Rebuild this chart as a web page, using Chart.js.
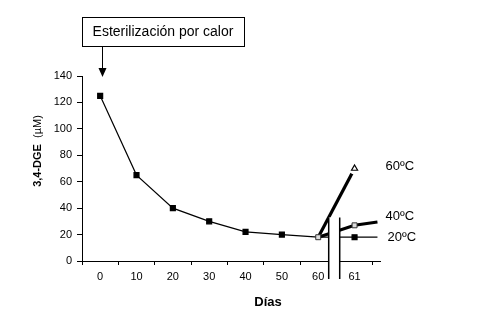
<!DOCTYPE html>
<html>
<head>
<meta charset="utf-8">
<script src="https://cdn.jsdelivr.net/npm/chart.js@4.4.1/dist/chart.umd.min.js"></script>
<style>
  body { margin: 0; background: #fff; }
  #wrap { width: 489px; height: 330px; position: relative; }
</style>
</head>
<body>
<div id="wrap"><canvas id="c"></canvas></div>
<script>
const days = ['0', '10', '20', '30', '40', '50', '60', '61'];
const mainValues = [125, 65, 40, 30, 22, 20, 18];
const tempLabels = ['20ºC', '40ºC', '60ºC'];
const t20Values = [18, 18, 18];
const t40Values = [18, 27, 29.5];
const t60Values = [18, 70];
const branchIndex = [6, 7, 7.63];
const yMax = 140;
const yStep = 20;

const font = 'Liberation Sans, Arial, sans-serif';
const pts = (vals, xs) => vals.map((v, i) => ({ x: xs[i], y: v }));
const t60End = pts(t60Values, branchIndex).slice(-1);

const extras = {
    id: 'extras',
    afterDatasetsDraw(chart) {
        const { ctx, scales: { x, y } } = chart;
        ctx.save();
        ctx.fillStyle = '#000';
        ctx.font = '13px ' + font;
        ctx.textBaseline = 'middle';
        ctx.textAlign = 'left';
        const lx = x.getPixelForValue(branchIndex[2]) + 8;
        ctx.fillText(tempLabels[2], lx, y.getPixelForValue(t60Values[1]) - 2);
        ctx.fillText(tempLabels[1], lx, y.getPixelForValue(t40Values[2]) - 6);
        ctx.fillText(tempLabels[0], lx + 2, y.getPixelForValue(t20Values[2]));
        ctx.restore();
    },
    afterDraw(chart) {
        const { ctx, scales: { x, y }, chartArea } = chart;
        ctx.save();
        // axis break
        const bl = x.getPixelForValue(6.44) - 5.5;
        const br = bl + 11;
        const bt = y.getPixelForValue(33);
        const bb = y.bottom + 18;
        ctx.fillStyle = '#fff';
        ctx.fillRect(bl, bt, br - bl, bb - bt);
        ctx.strokeStyle = '#000';
        ctx.lineWidth = 1.5;
        ctx.beginPath();
        ctx.moveTo(bl, bt); ctx.lineTo(bl, bb);
        ctx.moveTo(br, bt); ctx.lineTo(br, bb);
        ctx.stroke();

        // annotation box + arrow
        const boxL = chartArea.left, boxT = 17, boxW = 162, boxH = 29;
        ctx.lineWidth = 1;
        ctx.strokeRect(boxL + 0.5, boxT + 0.5, boxW, boxH);
        ctx.fillStyle = '#000';
        ctx.font = '14px ' + font;
        ctx.textAlign = 'center';
        ctx.textBaseline = 'middle';
        ctx.fillText('Esterilización por calor', boxL + boxW / 2, boxT + boxH / 2 + 1);
        const ax = Math.round(x.getPixelForValue(0) + 2) + 0.5;
        const tip = y.getPixelForValue(yMax) + 1;
        ctx.beginPath();
        ctx.moveTo(ax, boxT + boxH); ctx.lineTo(ax, tip - 8);
        ctx.stroke();
        ctx.beginPath();
        ctx.moveTo(ax - 4, tip - 9); ctx.lineTo(ax + 4, tip - 9); ctx.lineTo(ax, tip);
        ctx.closePath(); ctx.fill();

        // axis titles
        ctx.font = 'bold 13px ' + font;
        ctx.fillText('Días', 268, 302);
        ctx.translate(38, 151);
        ctx.rotate(-Math.PI / 2);
        const a = '3,4-DGE', b = '  (µM)';
        ctx.font = 'bold 11px ' + font;
        const wa = ctx.measureText(a).width;
        ctx.font = '11px ' + font;
        const wb = ctx.measureText(b).width;
        const start = -(wa + wb) / 2;
        ctx.textAlign = 'left';
        ctx.font = 'bold 11px ' + font;
        ctx.fillText(a, start, 0);
        ctx.font = '11px ' + font;
        ctx.fillText(b, start + wa, 0);
        ctx.restore();
    }
};

const isHalf = (v) => Math.abs(Math.abs(v - Math.round(v)) - 0.5) < 1e-6;

new Chart(document.getElementById('c'), {
    type: 'scatter',
    data: {
        datasets: [
            {
                data: pts(mainValues, mainValues.map((_, i) => i)),
                order: 5,
                showLine: true,
                borderColor: '#000',
                borderWidth: 1.2,
                pointStyle: 'rect',
                pointRadius: mainValues.map((_, i) => (i === 6 ? 0 : 3.5)),
                pointBackgroundColor: '#000',
                pointBorderColor: '#000',
            },
            {
                data: pts(t20Values, branchIndex),
                order: 4,
                showLine: true,
                borderColor: '#000',
                borderWidth: 1.2,
                pointStyle: 'rect',
                pointRadius: [0, 3.5, 0],
                pointBackgroundColor: '#000',
                pointBorderColor: '#000',
            },
            {
                data: pts(t60Values, branchIndex),
                order: 3,
                showLine: true,
                borderColor: '#000',
                borderWidth: 3.2,
                pointRadius: 0,
            },
            {
                // white halo so the thick line stops short of the marker
                data: t60End,
                order: 2,
                pointStyle: 'circle',
                pointRadius: 6,
                pointBorderWidth: 0,
                pointBackgroundColor: '#fff',
            },
            {
                data: t60End,
                order: 1,
                pointStyle: 'triangle',
                pointRadius: 3.5,
                pointBorderWidth: 1.2,
                pointBackgroundColor: '#fff',
                pointBorderColor: '#000',
            },
            {
                data: pts(t40Values, branchIndex),
                order: 0,
                showLine: true,
                borderColor: '#000',
                borderWidth: 3,
                pointStyle: 'rect',
                pointRadius: [3.5, 3.5, 0],
                pointBorderWidth: 1,
                pointBackgroundColor: '#ddd',
                pointBorderColor: '#333',
            },
        ],
    },
    options: {
        responsive: true,
        maintainAspectRatio: false,
        animation: false,
        layout: { padding: { top: 76, right: 109, left: 0, bottom: 0 } },
        plugins: { legend: { display: false }, tooltip: { enabled: false } },
        scales: {
            x: {
                type: 'linear',
                min: -0.5,
                max: 7.7,
                afterBuildTicks: (scale) => {
                    const t = [];
                    for (let v = -0.5; v <= days.length - 0.5; v += 0.5) t.push({ value: v });
                    scale.ticks = t;
                },
                afterFit: (scale) => { scale.height = 69; },
                ticks: {
                    autoSkip: false,
                    maxRotation: 0,
                    padding: 5,
                    color: '#000',
                    font: { family: font, size: 11 },
                    callback: (v) => (Number.isInteger(v) ? days[v] : ''),
                },
                grid: {
                    drawOnChartArea: false,
                    tickLength: 4,
                    tickColor: (c) => (c.tick && isHalf(c.tick.value) ? '#000' : 'rgba(0,0,0,0)'),
                },
                border: { color: '#000', width: 1 },
            },
            y: {
                min: 0,
                max: yMax,
                afterFit: (scale) => { scale.width = 82; },
                ticks: {
                    stepSize: yStep,
                    padding: 5,
                    color: '#000',
                    font: { family: font, size: 11 },
                },
                grid: { drawOnChartArea: false, tickLength: 5, tickColor: '#000' },
                border: { color: '#000', width: 1 },
            },
        },
    },
    plugins: [extras],
});
</script>
</body>
</html>
